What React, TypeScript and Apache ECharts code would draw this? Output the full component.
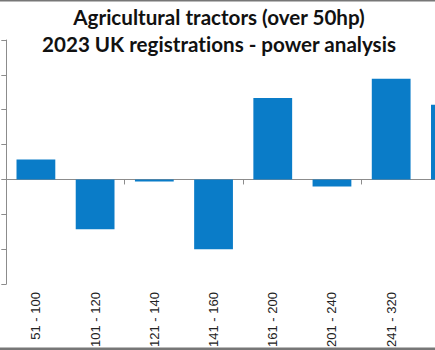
import React, { useEffect, useRef } from "react";
import * as echarts from "echarts";

const titleLines = ["Agricultural tractors (over 50hp)", "2023 UK registrations - power analysis"];
const categories = ["51 - 100", "101 - 120", "121 - 140", "141 - 160", "161 - 200", "201 - 240", "241 - 320", "321 +"];
const values = [0.57, -1.43, -0.06, -2.0, 2.34, -0.2, 2.89, 2.14];
const yMin = -3;
const yMax = 4;
const yInterval = 1;

export default function App() {
  const ref = useRef<HTMLDivElement>(null);
  useEffect(() => {
    if (!ref.current) return;
    const chart = echarts.init(ref.current, null, { renderer: "svg" });
    const axisColor = "#8c8c8c";
    chart.setOption({
      animation: false,
      backgroundColor: "#ffffff",
      title: {
        text: titleLines.join("\n"),
        left: 214,
        textAlign: "center",
        top: -2,
        textStyle: {
          fontFamily: "Lato",
          fontWeight: "bold",
          fontSize: 20.6,
          lineHeight: 27,
          color: "#111111",
        },
      },
      graphic: [
        { type: "rect", shape: { x: 0, y: 0, width: 480, height: 1.5 }, style: { fill: "#777777" }, silent: true },
        { type: "rect", shape: { x: 0, y: 347.5, width: 480, height: 2.5 }, style: { fill: "#777777" }, silent: true },
      ],
      grid: { left: 6.3, right: 0, top: 40, bottom: 65, containLabel: false },
      xAxis: [
        {
          type: "category",
          data: categories,
          position: "bottom",
          axisLine: { onZero: true, lineStyle: { color: axisColor, width: 1 } },
          axisTick: { show: true, length: 5, lineStyle: { color: axisColor } },
          axisLabel: { show: false },
        },
        {
          type: "category",
          data: categories,
          position: "bottom",
          axisLine: { show: false, onZero: false },
          axisTick: { show: false },
          axisLabel: {
            show: true,
            rotate: 90,
            margin: 8,
            fontFamily: "Liberation Sans",
            fontSize: 13,
            color: "#222222",
            interval: (i: number) => i < 7,
          },
        },
      ],
      yAxis: {
        type: "value",
        min: yMin,
        max: yMax,
        interval: yInterval,
        axisLine: { show: true, lineStyle: { color: axisColor } },
        axisTick: { show: true, length: 5, lineStyle: { color: axisColor } },
        axisLabel: { show: false },
        splitLine: { show: false },
      },
      series: [
        {
          type: "bar",
          xAxisIndex: 0,
          data: values,
          barCategoryGap: "34.5%",
          itemStyle: { color: "#0a7cc8" },
        },
      ],
    });
    return () => chart.dispose();
  }, []);
  return (
    <div style={{ position: "absolute", left: 0, top: 0, width: 435, height: 350, overflow: "hidden", background: "#fff" }}>
      <style>{"svg text { font-variant-ligatures: none !important; font-feature-settings: 'liga' 0, 'clig' 0 !important; }"}</style>
      <div ref={ref} style={{ width: 480, height: 350 }} />
    </div>
  );
}
